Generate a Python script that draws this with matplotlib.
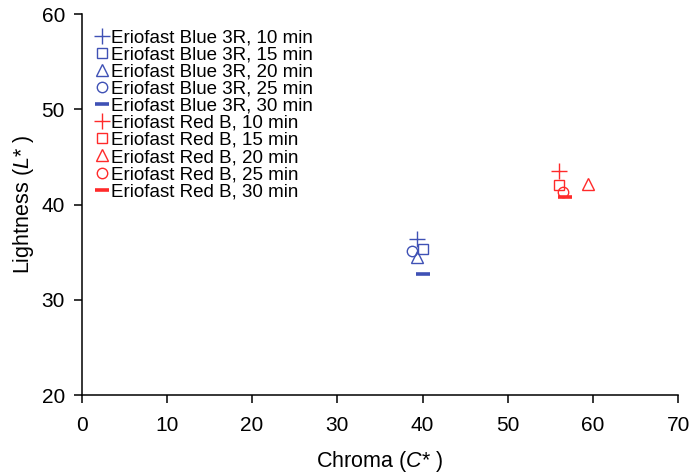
import matplotlib

matplotlib.use("Agg")
import matplotlib.pyplot as plt

plt.rcParams["font.family"] = ["Liberation Sans", "DejaVu Sans"]
plt.rcParams["mathtext.fontset"] = "custom"
plt.rcParams["mathtext.it"] = "Liberation Sans:italic"
plt.rcParams["mathtext.rm"] = "Liberation Sans"

times = [10, 15, 20, 25, 30]
markers = ["+", "s", "^", "o", "_"]

blue_chroma = [39.4, 40.1, 39.4, 38.8, 40.1]
blue_light = [36.4, 35.3, 34.5, 35.1, 32.7]
red_chroma = [56.0, 56.0, 59.4, 56.5, 56.7]
red_light = [43.5, 42.1, 42.2, 41.3, 40.8]

dyes = [
    ("Eriofast Blue 3R", blue_chroma, blue_light, "#3f51b5"),
    ("Eriofast Red B", red_chroma, red_light, "#ff2a2a"),
]

fig = plt.figure(figsize=(6.92, 4.75), dpi=100)
ax = fig.add_axes([0.118, 0.168, 0.862, 0.8025])

for name, xs, ys, color in dyes:
    for t, m, x, y in zip(times, markers, xs, ys):
        size = {"+": 11, "_": 10, "s": 7.5, "^": 8, "o": 7.5}[m]
        mew = 2.6 if m == "_" else 1.0
        ax.plot([x], [y], linestyle="none", marker=m, markersize=size,
                markerfacecolor="none", markeredgecolor=color, markeredgewidth=mew,
                label=f"{name}, {t} min")

ax.set_xlim(0, 70)
ax.set_ylim(20, 60)
ax.set_xticks(range(0, 71, 10))
ax.set_yticks(range(20, 61, 10))
ax.spines["top"].set_visible(False)
ax.spines["right"].set_visible(False)
for s in ("left", "bottom"):
    ax.spines[s].set_linewidth(1.1)
ax.tick_params(direction="out", labelsize=15, length=6, width=1.1, pad=6)
ax.tick_params(axis="x", pad=9)
ax.set_xlabel("Chroma ($\\mathit{C}$* )", fontsize=15.5, labelpad=10)
ax.set_ylabel("Lightness ($\\mathit{L}$* )", fontsize=15.5, labelpad=4)

ax.legend(loc="upper left", bbox_to_anchor=(0.0, 1.0), frameon=False, fontsize=13.5,
          handlelength=0.6, handletextpad=0.15, labelspacing=0.0, borderaxespad=0.4,
          borderpad=0.4)

fig.savefig("out.png", dpi=100)
